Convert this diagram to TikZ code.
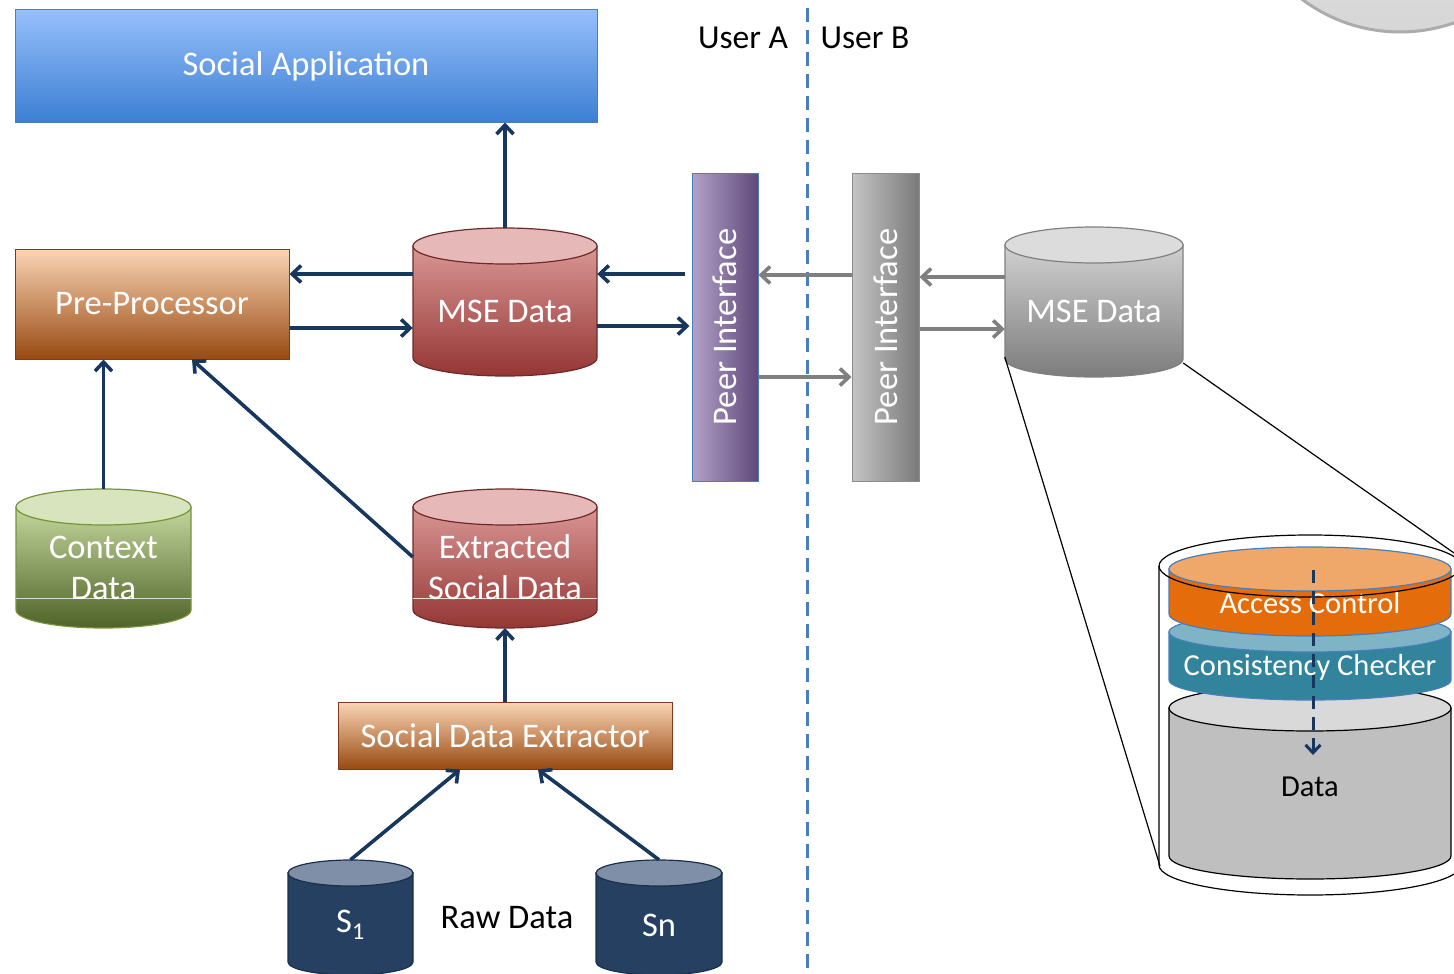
\documentclass[tikz,border=0pt]{standalone}
\usepackage{fontspec}
\setmainfont{Carlito}
\usetikzlibrary{arrows.meta,calc}
\definecolor{navy}{HTML}{17375E}
\definecolor{dashblue}{HTML}{4A7EBB}
\definecolor{garrow}{HTML}{7F7F7F}
\definecolor{appTop}{HTML}{96BFFB}
\definecolor{appBot}{HTML}{3C7FD3}
\definecolor{peachTop}{HTML}{FBD5B5}
\definecolor{peachBot}{HTML}{984A12}
\definecolor{peachLine}{HTML}{7F3A1C}
\definecolor{redTop}{HTML}{D99694}
\definecolor{redBot}{HTML}{943634}
\definecolor{redCap}{HTML}{E6B9B8}
\definecolor{redLine}{HTML}{6E2A28}
\definecolor{grnTop}{HTML}{C3D69B}
\definecolor{grnBot}{HTML}{4F6228}
\definecolor{grnCap}{HTML}{D7E4BD}
\definecolor{grnLine}{HTML}{77933C}
\definecolor{nvTop}{HTML}{254061}
\definecolor{nvCap}{HTML}{7F8FA8}
\definecolor{nvLine}{HTML}{1B3049}
\definecolor{gyTop}{HTML}{D0D0D0}
\definecolor{gyBot}{HTML}{7C7C7C}
\definecolor{gyCap}{HTML}{DCDCDC}
\definecolor{purL}{HTML}{B3A2C7}
\definecolor{purR}{HTML}{5F497A}
\definecolor{piGL}{HTML}{C4C4C4}
\definecolor{piGR}{HTML}{7A7A7A}
\definecolor{orCap}{HTML}{F0A86A}
\definecolor{orBody}{HTML}{E46C0A}
\definecolor{tlCap}{HTML}{7EB4C6}
\definecolor{tlBody}{HTML}{31849B}
\definecolor{dtCap}{HTML}{D9D9D9}
\definecolor{dtBody}{HTML}{BFBFBF}
\newcommand{\cylline}{black}
% #1 cx, #2 rx, #3 ytop, #4 ybot, #5 ry, #6 body top, #7 body bottom, #8 cap colour
\newcommand{\drawcyl}[8]{%
  \shade[top color=#6,bottom color=#7,draw=\cylline,line width=1.2pt]
    (#1-#2,#3) -- (#1-#2,#4) arc[start angle=180,end angle=0,x radius=#2,y radius=#5] -- (#1+#2,#3) -- cycle;
  \fill[#8,draw=\cylline,line width=1.2pt] (#1,#3) ellipse[x radius=#2,y radius=#5];
}
\tikzset{
  txt/.style={font=\fontsize{34.5}{40}\selectfont,text=white,inner sep=0pt,align=center},
  btxt/.style={font=\fontsize{34.5}{40}\selectfont,text=black,inner sep=0pt,align=center},
  stxt/.style={font=\fontsize{30.5}{36}\selectfont},
  arr/.style={draw=navy,line width=3.6pt,-{Straight Barb[length=9pt,width=17pt]}},
  garr/.style={draw=garrow,line width=3.6pt,-{Straight Barb[length=9pt,width=17pt]}},
}
\begin{document}
\begin{tikzpicture}[x=1pt,y=-1pt]
\useasboundingbox (0,0) rectangle (1454,974);
\clip (0,0) rectangle (1454,974);
% top-right disc fragment
\shade[top color=gray!12,bottom color=gray!32,draw=gray!65,line width=3pt] (1400,-131) circle[radius=163];
% Social application
\node[txt,draw=dashblue,line width=1pt,top color=appTop,bottom color=appBot,minimum width=582pt,minimum height=112pt] (app) at (306,66) {Social Application};
% user labels and divider
\node[btxt,font=\fontsize{33.5}{38}\selectfont] (ua) at (743,38) {User A};
\node[btxt,font=\fontsize{33.5}{38}\selectfont] (ub) at (865,38) {User B};
\coordinate (divtop) at (807,8);
\coordinate (divbot) at (807,974);
\draw[dashblue,line width=3pt,dash pattern=on 14pt off 8pt] (divtop) -- (divbot);
% Pre-processor
\node[txt,draw=peachLine,line width=1pt,top color=peachTop,bottom color=peachBot,minimum width=274pt,minimum height=110pt] (pre) at (152,304) {Pre-Processor};
% MSE Data (A)
\renewcommand{\cylline}{redLine}
\drawcyl{505}{92}{246}{358}{18}{redTop}{redBot}{redCap}
\node[txt,minimum width=184pt,minimum height=166pt] (mseA) at (505,311) {MSE Data};
% Context data
\renewcommand{\cylline}{grnLine}
\drawcyl{103.5}{87.5}{507}{610}{18}{grnTop}{grnBot}{grnCap}
\draw[white!80!grnBot,line width=0.8pt] (16,598) -- (191,598);
\node[txt,minimum width=175pt,minimum height=157pt] (ctx) at (103.5,567.5) {Context\\[1pt]Data};
% Extracted social data
\renewcommand{\cylline}{redLine}
\drawcyl{505}{92}{507}{610}{18}{redTop}{redBot}{redCap}
\draw[white!80!redBot,line width=0.8pt] (413,598) -- (597,598);
\node[txt,minimum width=184pt,minimum height=157pt] (ext) at (505,567.5) {Extracted\\[1pt]Social Data};
% Social data extractor
\node[txt,draw=peachLine,line width=1pt,top color=peachTop,bottom color=peachBot,minimum width=334pt,minimum height=67pt] (sde) at (505,735.5) {Social Data Extractor};
% raw data sources
\renewcommand{\cylline}{nvLine}
\drawcyl{350.5}{62.5}{873}{962}{13}{nvTop}{nvTop}{nvCap}
\node[txt,minimum width=125pt,minimum height=130pt] (s1) at (350.5,925) {S\textsubscript{1}};
\drawcyl{659}{63}{873}{962}{13}{nvTop}{nvTop}{nvCap}
\node[txt,minimum width=126pt,minimum height=130pt] (sn) at (659,925) {Sn};
\node[btxt] (raw) at (507,918) {Raw Data};
% Peer interfaces (rotated: north = left side, south = right side)
\node[txt,rotate=90,draw=dashblue,line width=1pt,left color=purL,right color=purR,minimum width=308pt,minimum height=66pt] (piA) at (725,327) {Peer Interface};
\node[txt,rotate=90,draw=gray!90,line width=1pt,left color=piGL,right color=piGR,minimum width=308pt,minimum height=67pt] (piB) at (885.5,327) {Peer Interface};
% MSE Data (B)
\renewcommand{\cylline}{gray}
\drawcyl{1094}{89}{245}{359}{18}{gyTop}{gyBot}{gyCap}
\node[txt,minimum width=178pt,minimum height=168pt] (mseB) at (1094,311) {MSE Data};
% zoomed store
\renewcommand{\cylline}{black}
\drawcyl{1310}{141}{708}{856}{23}{dtBody}{dtBody}{dtCap}
\renewcommand{\cylline}{dashblue}
\drawcyl{1310}{141}{632}{680}{20}{tlBody}{tlBody}{tlCap}
\drawcyl{1310}{141}{569}{614}{22}{orBody}{orBody}{orCap}
\node[txt,stxt] (acc) at (1310,603) {Access Control};
\node[txt,stxt] (cons) at (1310,667) {Consistency Checker};
\node[btxt,stxt] (dat) at (1310,787) {Data};
% outer transparent cylinder
\draw[black,line width=1.2pt] (1310,566) ellipse[x radius=151,y radius=31];
\draw[black,line width=1.2pt] (1159,566) -- (1159,865) arc[start angle=180,end angle=0,x radius=151,y radius=30] -- (1461,566);
\coordinate (outBL) at (1160,866);
\coordinate (outTR) at (1454,553);
\draw[black,line width=1.2pt] (mseB.west |- 0,357) -- (outBL);
\draw[black,line width=1.2pt] (mseB.east |- 0,363) -- (outTR);
\coordinate (flowTop) at (1313,570);
\coordinate (flowBot) at (1313,755);
\draw[navy,line width=3pt,dash pattern=on 13pt off 8pt,-{Straight Barb[length=8pt,width=15pt]}] (flowTop) -- (flowBot);
% connectors
\draw[arr] (mseA.north) -- (mseA.north |- app.south);
\draw[arr] (mseA.west |- 0,274) -- (pre.east |- 0,274);
\draw[arr] (pre.east |- 0,328) -- (mseA.west |- 0,328);
\draw[arr] ([xshift=-7pt]piA.north |- 0,274) -- (mseA.east |- 0,274);
\draw[arr] (mseA.east |- 0,326) -- ([xshift=-2pt]piA.north |- 0,326);
\draw[garr] (piB.north |- 0,275) -- (piA.south |- 0,275);
\draw[garr] (piA.south |- 0,377) -- (piB.north |- 0,377);
\draw[garr] (mseB.west |- 0,277) -- (piB.south |- 0,277);
\draw[garr] (piB.south |- 0,329) -- (mseB.west |- 0,329);
\draw[arr] (ctx.north) -- (ctx.north |- pre.south);
\draw[arr] (ext.west |- 0,557) -- (pre.south -| 192,0);
\draw[arr] (sde.north) -- (sde.north |- 0,628);
\draw[arr] (s1.north) -- (sde.south -| 460,0);
\draw[arr] (sn.north) -- (sde.south -| 538,0);
\end{tikzpicture}
\end{document}
